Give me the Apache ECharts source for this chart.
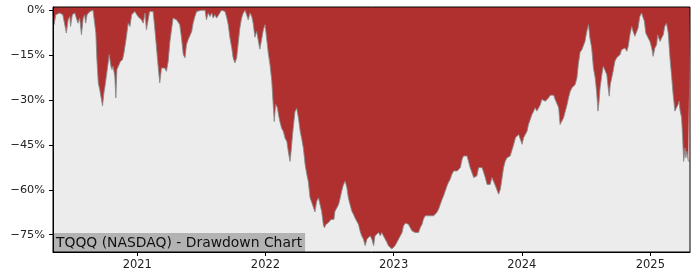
<!DOCTYPE html>
<html><head><meta charset="utf-8">
<script src="https://cdn.jsdelivr.net/npm/echarts@6/dist/echarts.min.js"></script>
<style>html,body{margin:0;padding:0;background:#fff}#c{width:700px;height:280px}</style>
</head><body><div id="c"></div>
<script>
const chartTitle = 'TQQQ (NASDAQ) - Drawdown Chart';
const yTicks = [0, -15, -30, -45, -60, -75];
const xTickYears = [2021, 2022, 2023, 2024, 2025];
const dateRange = ['2020-05-06', '2025-04-24'];
const yRange = [-80.8, 1.1];

const dates = [
'2020-05-06','2020-05-09','2020-05-14','2020-05-25','2020-06-03','2020-06-08','2020-06-13','2020-06-18','2020-06-23','2020-06-25',
'2020-06-30','2020-07-07','2020-07-12','2020-07-16','2020-07-21','2020-07-26','2020-07-31','2020-08-04','2020-08-07','2020-08-11',
'2020-08-19','2020-08-28','2020-09-02','2020-09-05','2020-09-08','2020-09-12','2020-09-16','2020-09-21','2020-09-24','2020-09-28',
'2020-10-01','2020-10-05','2020-10-10','2020-10-13','2020-10-18','2020-10-21','2020-10-24','2020-10-29','2020-11-01','2020-11-04',
'2020-11-10','2020-11-14','2020-11-20','2020-11-24','2020-11-30','2020-12-03','2020-12-06','2020-12-11','2020-12-16','2020-12-25',
'2020-12-30','2021-01-03','2021-01-08','2021-01-13','2021-01-18','2021-01-23','2021-01-27','2021-02-01','2021-02-05','2021-02-10',
'2021-02-15','2021-02-19','2021-02-24','2021-03-01','2021-03-06','2021-03-11','2021-03-15','2021-03-20','2021-03-25','2021-03-30',
'2021-04-04','2021-04-09','2021-04-13','2021-04-18','2021-04-23','2021-04-27','2021-05-02','2021-05-07','2021-05-12','2021-05-17',
'2021-05-21','2021-05-26','2021-05-31','2021-06-05','2021-06-09','2021-06-14','2021-06-19','2021-06-24','2021-07-03','2021-07-13',
'2021-07-17','2021-07-22','2021-07-27','2021-08-01','2021-08-05','2021-08-10','2021-08-15','2021-08-20','2021-08-24','2021-08-29',
'2021-09-03','2021-09-08','2021-09-13','2021-09-17','2021-09-22','2021-09-27','2021-10-01','2021-10-06','2021-10-11','2021-10-16',
'2021-10-20','2021-10-25','2021-10-30','2021-11-04','2021-11-09','2021-11-13','2021-11-18','2021-11-23','2021-11-27','2021-12-02',
'2021-12-07','2021-12-12','2021-12-16','2021-12-21','2021-12-26','2021-12-31','2022-01-05','2022-01-09','2022-01-14','2022-01-19',
'2022-01-23','2022-01-26','2022-01-30','2022-02-04','2022-02-07','2022-02-11','2022-02-16','2022-02-21','2022-02-26','2022-03-03',
'2022-03-07','2022-03-12','2022-03-15','2022-03-19','2022-03-23','2022-03-26','2022-03-31','2022-04-05','2022-04-10','2022-04-14',
'2022-04-19','2022-04-24','2022-04-29','2022-05-03','2022-05-08','2022-05-13','2022-05-17','2022-05-22','2022-05-27','2022-06-01',
'2022-06-06','2022-06-10','2022-06-15','2022-06-18','2022-06-22','2022-06-28','2022-07-01','2022-07-07','2022-07-11','2022-07-15',
'2022-07-18','2022-07-23','2022-07-28','2022-08-02','2022-08-06','2022-08-11','2022-08-16','2022-08-21','2022-08-25','2022-08-30',
'2022-09-04','2022-09-09','2022-09-13','2022-09-18','2022-09-23','2022-09-28','2022-10-02','2022-10-07','2022-10-12','2022-10-17',
'2022-10-21','2022-10-26','2022-10-31','2022-11-05','2022-11-09','2022-11-14','2022-11-19','2022-11-24','2022-11-28','2022-12-03',
'2022-12-08','2022-12-13','2022-12-17','2022-12-22','2022-12-27','2023-01-01','2023-01-05','2023-01-10','2023-01-15','2023-01-20',
'2023-01-25','2023-01-29','2023-02-03','2023-02-08','2023-02-12','2023-02-17','2023-02-22','2023-02-27','2023-03-03','2023-03-08',
'2023-03-13','2023-03-18','2023-03-23','2023-03-27','2023-04-01','2023-04-06','2023-04-15','2023-04-20','2023-04-25','2023-04-29',
'2023-05-04','2023-05-09','2023-05-14','2023-05-19','2023-05-23','2023-05-28','2023-06-02','2023-06-06','2023-06-11','2023-06-16',
'2023-06-21','2023-06-26','2023-07-01','2023-07-05','2023-07-10','2023-07-15','2023-07-19','2023-07-24','2023-07-29','2023-08-02',
'2023-08-07','2023-08-12','2023-08-17','2023-08-22','2023-08-26','2023-08-31','2023-09-05','2023-09-10','2023-09-14','2023-09-19',
'2023-09-24','2023-09-29','2023-10-03','2023-10-08','2023-10-13','2023-10-18','2023-10-22','2023-10-27','2023-11-01','2023-11-06',
'2023-11-10','2023-11-15','2023-11-20','2023-11-29','2023-12-04','2023-12-09','2023-12-14','2023-12-19','2023-12-23','2023-12-28',
'2024-01-02','2024-01-06','2024-01-11','2024-01-16','2024-01-20','2024-01-25','2024-01-30','2024-02-04','2024-02-08','2024-02-13',
'2024-02-18','2024-02-23','2024-02-27','2024-03-03','2024-03-08','2024-03-13','2024-03-17','2024-03-22','2024-03-27','2024-04-01',
'2024-04-05','2024-04-10','2024-04-15','2024-04-19','2024-04-24','2024-04-29','2024-05-04','2024-05-09','2024-05-13','2024-05-18',
'2024-05-23','2024-05-28','2024-06-01','2024-06-06','2024-06-10','2024-06-15','2024-06-20','2024-06-24','2024-06-29','2024-07-04',
'2024-07-09','2024-07-11','2024-07-13','2024-07-18','2024-07-23','2024-07-28','2024-08-01','2024-08-05','2024-08-08','2024-08-11',
'2024-08-16','2024-08-20','2024-08-25','2024-08-30','2024-09-03','2024-09-06','2024-09-09','2024-09-13','2024-09-17','2024-09-22',
'2024-09-27','2024-10-02','2024-10-07','2024-10-11','2024-10-16','2024-10-21','2024-10-26','2024-10-30','2024-11-04','2024-11-09',
'2024-11-13','2024-11-18','2024-11-23','2024-11-27','2024-12-02','2024-12-07','2024-12-12','2024-12-15','2024-12-19','2024-12-22',
'2024-12-26','2024-12-31','2025-01-05','2025-01-09','2025-01-14','2025-01-19','2025-01-22','2025-01-25','2025-01-29','2025-02-02',
'2025-02-07','2025-02-11','2025-02-16','2025-02-21','2025-02-26','2025-03-03','2025-03-07','2025-03-12','2025-03-17','2025-03-21',
'2025-03-24','2025-03-27','2025-03-31','2025-04-03','2025-04-06','2025-04-10','2025-04-12','2025-04-15','2025-04-19','2025-04-22',
'2025-04-24'
];

const drawdown = [
0,-4.8,-1.5,-0.9,-1.5,-2.1,-7.6,-3.2,-2.1,-5.4,
-1.5,-0.9,-0.4,-4.3,-2.6,-8.2,-2.6,-1.5,-4.3,-1.5,
-0.4,0,0,-7.6,-16.5,-24.3,-26.5,-29.8,-32,-27.6,
-25.4,-24.8,-17.6,-14.8,-18.7,-19.8,-18.7,-22.1,-29.3,-19.8,
-18.2,-17.1,-16.5,-14.3,-9.8,-7.1,-4.3,-5.4,-1.5,-0.4,
-0.9,-2.1,-1.5,-3.2,-4.3,-0.9,-6.5,-3.2,-0.4,0,
-0.4,-5,-11.5,-18.2,-24.3,-19.3,-18.7,-19.3,-20.4,-17.1,
-10.4,-6,-2.6,-2.1,-3.2,-2.6,-4.8,-9.3,-14.8,-15.9,
-11.5,-9.8,-9.3,-7.1,-4.3,-2.1,-0.4,0,0,0,
-3.2,-0.9,-2.1,-0.9,-2.6,-1.5,-2.6,-3.2,-0.9,0,
0,-0.4,-2.6,-4.8,-9.3,-12.6,-15.9,-17.6,-15.9,-10.4,
-6,-2.6,-0.9,0,-0.4,-3.2,-0.9,-2.1,-4.3,-9,
-7.1,-7.6,-13,-9.8,-6.5,-4.8,-5.4,-14.3,-18.2,-23.7,
-31.5,-37.2,-31.5,-32.6,-34.8,-37.2,-39.4,-40.5,-42.8,-43.9,
-47.2,-50.5,-47.2,-41.7,-37.2,-33.9,-32.8,-36.1,-40.5,-42.8,
-46.1,-51.6,-55,-57.2,-62.7,-64.3,-64.9,-67.4,-63.8,-62.7,
-63.3,-67.2,-71.8,-72.7,-71.6,-71.1,-71.6,-69.9,-69.4,-69.9,
-67.2,-66.1,-65,-62.7,-60.5,-58.3,-57.1,-59.4,-62.7,-65,
-67.2,-68.3,-69.4,-70.5,-71.6,-74,-75.4,-76.5,-78.7,-76.5,
-76,-75.4,-76.5,-78.7,-75.4,-74.8,-74.3,-75.4,-74.3,-74.8,
-76.5,-77.6,-78.7,-79.3,-79.8,-80.4,-78.7,-77.6,-76.5,-75.4,
-74.3,-72.1,-71.2,-71.2,-71.5,-72.6,-73.7,-74.3,-74.3,-73.7,
-74.3,-72.6,-71.5,-69.8,-68.7,-68.7,-68.7,-69.3,-68.7,-68.2,
-67.6,-66.5,-64.8,-63.2,-62.1,-60.4,-58.7,-57.6,-56.5,-54.8,
-53.7,-54.3,-53.7,-53.2,-52.6,-49.8,-48.7,-49.3,-48.7,-50.4,
-52.6,-53.2,-55.9,-55.9,-55.4,-52.6,-52.1,-52.6,-53.2,-55.9,
-58.2,-58.7,-58.2,-55.9,-56.5,-58.7,-59.3,-61.5,-59.8,-55.9,
-52.6,-50.4,-49.3,-48.7,-48.2,-44.8,-42.6,-42.1,-41.5,-41,
-44.8,-42.6,-41.5,-40.4,-38.2,-36.5,-34.8,-33.7,-32.6,-33.7,
-33.2,-31.5,-29.8,-29.8,-30.4,-29.8,-29.3,-28.4,-28.2,-28.4,
-29.8,-30.4,-32.6,-38.2,-38.2,-35.9,-33.7,-31.5,-29.3,-27.1,
-25.9,-25.4,-24.8,-22.6,-18,-14,-13.2,-12.6,-10.4,-7.1,
-4.8,-5.4,-9.3,-12.6,-19.3,-22.6,-27.1,-33.7,-30.4,-25.9,
-21.5,-18.7,-19.3,-21.5,-25.9,-28.7,-24.8,-22.6,-20.4,-17.1,
-15.9,-16.5,-14.8,-13.2,-13.7,-12.6,-13.7,-12.1,-8.2,-5.4,
-7.1,-8.7,-8.2,-6,-2.1,-0.9,-0.6,-3.7,-7.6,-7.1,
-9.3,-10.4,-12.6,-15.4,-12.6,-11.5,-8.2,-9.3,-10.4,-9.3,
-8.2,-5.4,-4.3,-7.6,-15.9,-22.6,-28.2,-33.7,-33.7,-31.5,
-30.4,-33.7,-35.9,-42.6,-50.5,-46,-49.3,-47.1,-50.4,-50.4,
-50.5
];

const font = 'DejaVu Sans';
const toTime = s => { const p = s.split('-').map(Number); return Date.UTC(p[0], p[1] - 1, p[2]); };
const seriesData = dates.map((d, i) => [toTime(d), drawdown[i]]);
const yearStarts = xTickYears.map(y => Date.UTC(y, 0, 1));
const xMin = toTime(dateRange[0]), xMax = toTime(dateRange[1]);
const fmtPct = v => (v < 0 ? '\u2212' : '') + Math.abs(v) + '%';

const chart = echarts.init(document.getElementById('c'), null, {renderer: 'canvas'});
chart.setOption({
  animation: false,
  backgroundColor: '#ffffff',
  title: {
    text: chartTitle,
    left: 53, top: 233,
    backgroundColor: '#b3b3b3',
    padding: [2, 3, 1, 3],
    textStyle: {fontFamily: font, fontSize: 13.9, fontWeight: 'normal', color: '#111', lineHeight: 16}
  },
  grid: {left: 53, right: 10, top: 7, bottom: 28, show: true, backgroundColor: '#ececec', borderWidth: 0},
  xAxis: {
    type: 'value', min: xMin, max: xMax, z: 10,
    axisLine: {show: true, onZero: false, lineStyle: {color: '#000', width: 1}},
    splitLine: {show: false},
    axisTick: {show: true, length: 4, lineStyle: {color: '#000'}, customValues: yearStarts},
    axisLabel: {customValues: yearStarts, margin: 7, fontFamily: font, fontSize: 11.5, color: '#222',
      formatter: v => String(new Date(v).getUTCFullYear())}
  },
  yAxis: {
    type: 'value', min: yRange[0], max: yRange[1], z: 10,
    axisLine: {show: true, onZero: false, lineStyle: {color: '#000', width: 1}},
    splitLine: {show: false},
    axisTick: {show: true, length: 4, lineStyle: {color: '#000'}, customValues: yTicks},
    axisLabel: {customValues: yTicks, margin: 8, fontFamily: font, fontSize: 11.3, color: '#222', formatter: fmtPct}
  },
  series: [{
    type: 'line',
    data: seriesData,
    showSymbol: false,
    symbol: 'none',
    lineStyle: {color: '#8a8a8a', width: 1, opacity: 0.85},
    areaStyle: {color: '#b03030', opacity: 1, origin: 'end'},
    z: 2
  }]
});

// frame around the plot area, positioned from the axes' own scales
const tl = chart.convertToPixel({gridIndex: 0}, [xMin, yRange[1]]);
const br = chart.convertToPixel({gridIndex: 0}, [xMax, yRange[0]]);
chart.setOption({
  graphic: [{
    type: 'rect', z: 100, silent: true,
    shape: {x: tl[0], y: tl[1], width: br[0] - tl[0], height: br[1] - tl[1]},
    style: {fill: null, stroke: '#000', lineWidth: 1}
  }]
});
</script>
</body></html>
